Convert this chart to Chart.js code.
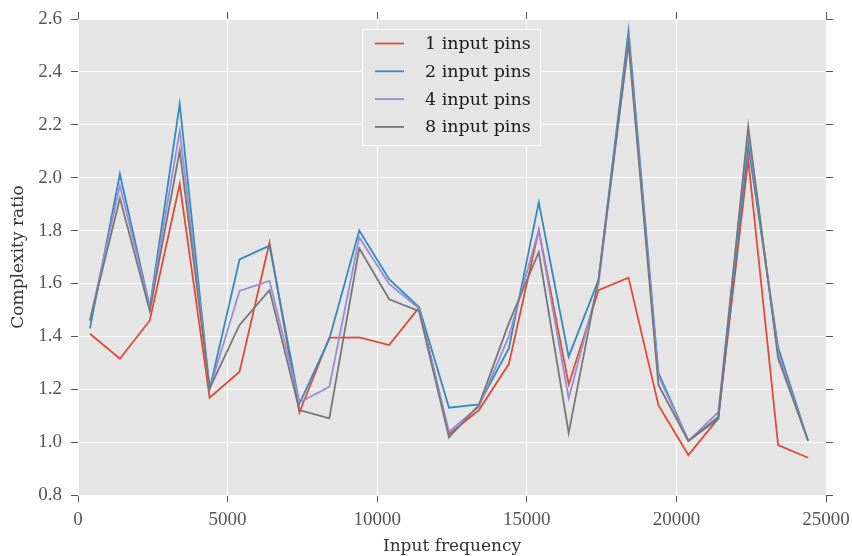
<!DOCTYPE html>
<html lang="en">
<head>
    <meta charset="UTF-8">
    <title>Complexity ratio vs input frequency</title>
    <script src="https://cdn.jsdelivr.net/npm/chart.js@4.4.3/dist/chart.umd.min.js"></script>
    <style>
        html, body { margin: 0; padding: 0; background: #fff; }
        #wrap { width: 852px; height: 556px; }
    </style>
</head>
<body>
    <div id="wrap"><canvas id="grafico" width="852" height="556"></canvas></div>
    <script>
        // datos
        const frecuencias = [400, 1400, 2400, 3400, 4400, 5400, 6400, 7400, 8400, 9400, 10400, 11400, 12400,
                             13400, 14400, 15400, 16400, 17400, 18400, 19400, 20400, 21400, 22400, 23400, 24400];
        const pins1 = [1.41, 1.315, 1.46, 1.976, 1.168, 1.266, 1.755, 1.112, 1.395, 1.396, 1.367, 1.509, 1.03,
                       1.121, 1.295, 1.802, 1.218, 1.575, 1.622, 1.14, 0.951, 1.09, 2.069, 0.989, 0.941];
        const pins2 = [1.43, 2.014, 1.51, 2.279, 1.2, 1.691, 1.743, 1.145, 1.39, 1.8, 1.616, 1.51, 1.13,
                       1.143, 1.354, 1.907, 1.323, 1.615, 2.556, 1.262, 1.005, 1.088, 2.123, 1.358, 1.005];
        const pins4 = [1.46, 1.97, 1.51, 2.178, 1.2, 1.572, 1.61, 1.15, 1.209, 1.774, 1.598, 1.505, 1.039,
                       1.135, 1.4, 1.802, 1.165, 1.6, 2.52, 1.25, 1.005, 1.113, 2.17, 1.335, 1.005];
        const pins8 = [1.46, 1.922, 1.496, 2.102, 1.203, 1.443, 1.575, 1.121, 1.09, 1.733, 1.54, 1.495, 1.018,
                       1.14, 1.45, 1.718, 1.035, 1.62, 2.508, 1.216, 1.004, 1.095, 2.193, 1.317, 1.005];
        const etiquetas = ['1 input pins', '2 input pins', '4 input pins', '8 input pins'];
        const colores = ['#E24A33', '#348ABD', '#988ED5', '#777777'];

        const series = [pins1, pins2, pins4, pins8];
        const puntos = s => frecuencias.map((f, i) => ({ x: f, y: s[i] }));

        // fondo gris del area de trazado
        const fondo = {
            id: 'fondo',
            beforeDraw(chart) {
                const { ctx, chartArea: a } = chart;
                ctx.save();
                ctx.fillStyle = '#E5E5E5';
                ctx.fillRect(a.left, a.top, a.right - a.left, a.bottom - a.top);
                ctx.restore();
            }
        };

        // leyenda dentro del grafico
        const leyenda = {
            id: 'leyenda',
            afterDatasetsDraw(chart) {
                const { ctx, chartArea: a } = chart;
                const x0 = a.left + 284, y0 = a.top + 10, w = 178, h = 116;
                ctx.save();
                ctx.fillStyle = '#E5E5E5';
                ctx.fillRect(x0, y0, w, h);
                ctx.strokeStyle = '#ffffff';
                ctx.lineWidth = 1;
                ctx.strokeRect(x0 + 0.5, y0 + 0.5, w, h);
                ctx.font = '17.5px "DejaVu Serif"';
                ctx.textBaseline = 'middle';
                chart.data.datasets.forEach((ds, i) => {
                    const y = y0 + 14.5 + i * 27.8;
                    ctx.strokeStyle = ds.borderColor;
                    ctx.lineWidth = 1.8;
                    ctx.beginPath();
                    ctx.moveTo(x0 + 13, y);
                    ctx.lineTo(x0 + 42, y);
                    ctx.stroke();
                    ctx.fillStyle = '#1a1a1a';
                    ctx.fillText(ds.label, x0 + 63, y + 1);
                });
                ctx.restore();
            }
        };

        const fuenteTicks = { family: '"Liberation Serif"', size: 19 };

        new Chart(document.getElementById('grafico'), {
            type: 'line',
            data: {
                datasets: series.map((s, i) => ({
                    label: etiquetas[i],
                    data: puntos(s),
                    borderColor: colores[i],
                    backgroundColor: colores[i],
                    borderWidth: 1.8,
                    pointRadius: 0,
                    tension: 0,
                    fill: false,
                    order: 4 - i
                }))
            },
            options: {
                responsive: false,
                animation: false,
                devicePixelRatio: 1,
                layout: { padding: 0 },
                plugins: {
                    legend: { display: false },
                    tooltip: { enabled: false }
                },
                scales: {
                    x: {
                        type: 'linear',
                        position: 'bottom',
                        min: 0,
                        max: 25000,
                        ticks: {
                            stepSize: 5000,
                            color: '#555',
                            font: fuenteTicks,
                            padding: 7,
                            maxRotation: 0,
                            callback: v => String(v)
                        },
                        grid: { color: '#ffffff', lineWidth: 1, tickColor: '#555', tickLength: 7 },
                        border: { display: false },
                        title: {
                            display: true,
                            text: 'Input frequency',
                            color: '#333',
                            font: { family: '"DejaVu Serif"', size: 17, lineHeight: 1 },
                            padding: { top: 0, bottom: 1 }
                        },
                        afterFit: s => { s.height = 61; s.paddingLeft = 0; s.paddingRight = 0; }
                    },
                    x2: {
                        type: 'linear',
                        position: 'top',
                        min: 0,
                        max: 25000,
                        ticks: { stepSize: 5000, display: false },
                        grid: { color: 'rgba(0,0,0,0)', tickColor: '#555', tickLength: 7 },
                        border: { display: false },
                        afterFit: s => { s.height = 19; s.paddingLeft = 0; s.paddingRight = 0; }
                    },
                    y: {
                        position: 'left',
                        min: 0.8,
                        max: 2.6,
                        ticks: {
                            stepSize: 0.2,
                            color: '#555',
                            font: fuenteTicks,
                            padding: 9,
                            callback: v => Number(v).toFixed(1)
                        },
                        grid: { color: '#ffffff', lineWidth: 1, tickColor: '#555', tickLength: 7 },
                        border: { display: false },
                        title: {
                            display: true,
                            text: 'Complexity ratio',
                            color: '#333',
                            font: { family: '"DejaVu Serif"', size: 17, lineHeight: 1 },
                            padding: { top: 10, bottom: 0 }
                        },
                        afterFit: s => { s.width = 78; s.paddingTop = 0; s.paddingBottom = 0; }
                    },
                    y2: {
                        position: 'right',
                        min: 0.8,
                        max: 2.6,
                        ticks: { stepSize: 0.2, display: false },
                        grid: { color: 'rgba(0,0,0,0)', tickColor: '#555', tickLength: 7 },
                        border: { display: false },
                        afterFit: s => { s.width = 26; s.paddingTop = 0; s.paddingBottom = 0; }
                    }
                }
            },
            plugins: [fondo, leyenda]
        });
    </script>
</body>
</html>
